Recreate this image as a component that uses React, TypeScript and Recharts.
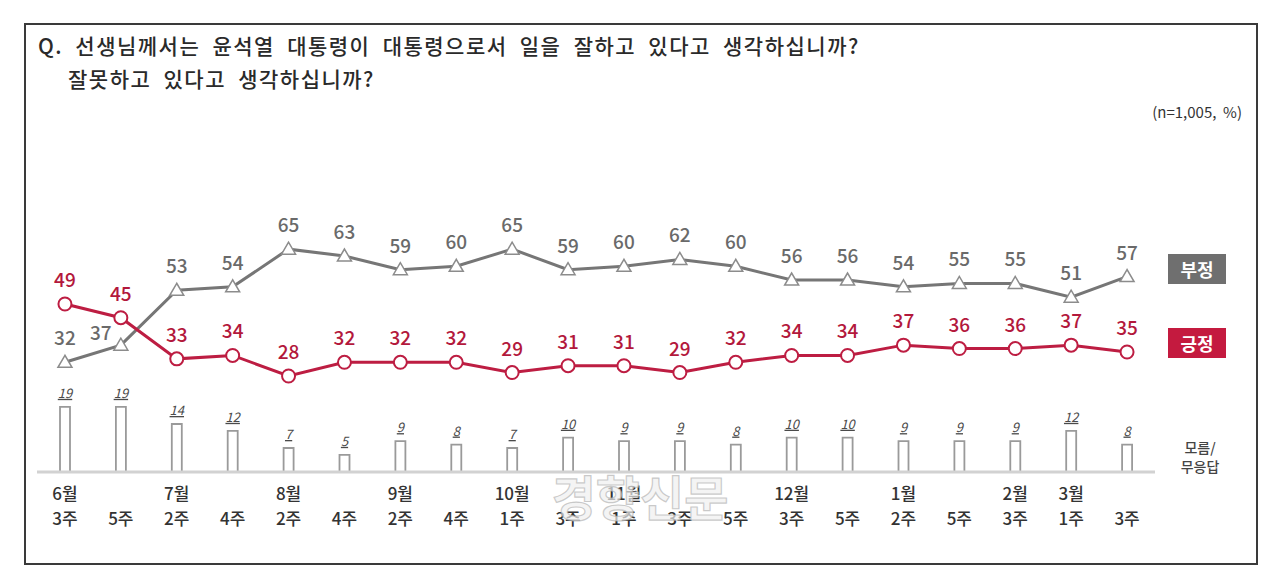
import React from "react";
import { ComposedChart, Bar, Line, XAxis, YAxis, LabelList } from "recharts";

const months = ["6월", "", "7월", "", "8월", "", "9월", "", "10월", "", "11월", "", "", "12월", "", "1월", "", "2월", "3월", ""];
const weeks = ["3주", "5주", "2주", "4주", "2주", "4주", "2주", "4주", "1주", "3주", "1주", "3주", "5주", "3주", "5주", "2주", "5주", "3주", "1주", "3주"];
const negative = [32, 37, 53, 54, 65, 63, 59, 60, 65, 59, 60, 62, 60, 56, 56, 54, 55, 55, 51, 57];
const positive = [49, 45, 33, 34, 28, 32, 32, 32, 29, 31, 31, 29, 32, 34, 34, 37, 36, 36, 37, 35];
const noAnswer = [19, 19, 14, 12, 7, 5, 9, 8, 7, 10, 9, 9, 8, 10, 10, 9, 9, 9, 12, 8];

const data = weeks.map((w, i) => ({
  name: `${months[i]} ${w}`.trim(),
  neg: negative[i],
  pos: positive[i],
  dk: noAnswer[i],
}));

const FONT = "'Noto Sans CJK KR', 'Noto Sans', sans-serif";
const GRAY = "#767676";
const RED = "#bd1d42";

const Triangle = (props: any) => {
  const { cx, cy, index } = props;
  if (cx == null || cy == null) return null;
  return (
    <polygon
      key={`tri-${index}`}
      points={`${cx},${cy - 7} ${cx - 7},${cy + 5} ${cx + 7},${cy + 5}`}
      fill="#fff"
      stroke="#8c8c8c"
      strokeWidth={1.5}
    />
  );
};

const Ring = (props: any) => {
  const { cx, cy, index } = props;
  if (cx == null || cy == null) return null;
  return <circle key={`ring-${index}`} cx={cx} cy={cy} r={6.5} fill="#fff" stroke={RED} strokeWidth={2} />;
};

// index 1 of the 부정 line has its label pushed left, off the crossing lines
const negNudge: Record<number, [number, number]> = { 1: [-20, 12] };

const LineLabel = (color: string, nudge: Record<number, [number, number]> = {}) => (props: any) => {
  const { x, y, value, index } = props;
  const [dx, dy] = nudge[index] || [0, 0];
  return (
    <text
      x={x + dx}
      y={y - 17 + dy}
      textAnchor="middle"
      fontSize={19}
      fontFamily={FONT}
      fontWeight={500}
      fill={color}
    >
      {value}
    </text>
  );
};

const BarLabel = (props: any) => {
  const { x, y, width, value } = props;
  return (
    <text
      x={x + width / 2}
      y={y - 9}
      textAnchor="middle"
      fontSize={13}
      fontStyle="italic"
      fontFamily={FONT}
      textDecoration="underline"
      fill="#4a4a4a"
    >
      {value}
    </text>
  );
};

const Tick = (props: any) => {
  const { x, y, payload } = props;
  const i = payload.index;
  return (
    <g>
      {months[i] && (
        <text x={x} y={y + 20} textAnchor="middle" fontSize={17} fontFamily={FONT} fontWeight={500} fill="#333">
          {months[i]}
        </text>
      )}
      <text x={x} y={y + 45} textAnchor="middle" fontSize={17} fontFamily={FONT} fontWeight={500} fill="#333">
        {weeks[i]}
      </text>
    </g>
  );
};

const titleStyle: React.CSSProperties = {
  position: "absolute",
  fontSize: 21,
  fontWeight: 500,
  color: "#2a2a2a",
  whiteSpace: "pre",
  letterSpacing: 1.5,
  wordSpacing: 6,
  lineHeight: "28px",
};

export default function App() {
  return (
    <div style={{ position: "absolute", left: 0, top: 0, width: 1280, height: 586, background: "#fff", fontFamily: FONT, overflow: "hidden" }}>
      <div
        style={{
          position: "absolute",
          left: 24,
          top: 23,
          width: 1230,
          height: 538,
          border: "2px solid #3a3a3a",
        }}
      />
      <div style={{ ...titleStyle, left: 38, top: 31 }}>
        Q. 선생님께서는 윤석열 대통령이 대통령으로서 일을 잘하고 있다고 생각하십니까?
      </div>
      <div style={{ ...titleStyle, left: 68, top: 64 }}>
        잘못하고 있다고 생각하십니까?
      </div>
      <div style={{ position: "absolute", right: 1280 - 1242, top: 101, fontSize: 15, color: "#333", lineHeight: "22px", whiteSpace: "pre" }}>
        (n=1,005,  %)
      </div>

      <div style={{ position: "absolute", left: 0, top: 0 }}>
        <ComposedChart width={1280} height={586} data={data} margin={{ top: 232, right: 125, bottom: 54, left: 37 }}>
          <YAxis hide domain={[0, 70]} />
          <XAxis
            dataKey="name"
            height={60}
            axisLine={{ stroke: "#d2d2d2", strokeWidth: 3 }}
            tickLine={false}
            tick={<Tick />}
            interval={0}
          />
          <Bar dataKey="dk" barSize={10} fill="#fff" stroke="#9a9a9a" strokeWidth={1.8} isAnimationActive={false}>
            <LabelList dataKey="dk" content={BarLabel} />
          </Bar>
          <Line
            type="linear"
            dataKey="neg"
            stroke={GRAY}
            strokeWidth={3}
            dot={<Triangle />}
            activeDot={false}
            isAnimationActive={false}
          >
            <LabelList dataKey="neg" content={LineLabel("#6a6a6a", negNudge)} />
          </Line>
          <Line
            type="linear"
            dataKey="pos"
            stroke={RED}
            strokeWidth={3}
            dot={<Ring />}
            activeDot={false}
            isAnimationActive={false}
          >
            <LabelList dataKey="pos" content={LineLabel("#b3183c")} />
          </Line>
        </ComposedChart>
      </div>

      <div style={{ position: "absolute", left: 1168, top: 254, width: 58, height: 30, background: "#6f6f6f", color: "#fff", fontSize: 18, fontWeight: 700, textAlign: "center", lineHeight: "30px" }}>
        부정
      </div>
      <div style={{ position: "absolute", left: 1168, top: 328, width: 58, height: 30, background: "#c41a3f", color: "#fff", fontSize: 18, fontWeight: 700, textAlign: "center", lineHeight: "30px" }}>
        긍정
      </div>
      <div style={{ position: "absolute", left: 1170, top: 438, width: 60, fontSize: 14, fontWeight: 500, color: "#444", textAlign: "center", lineHeight: "19px" }}>
        모름/
        <br />
        무응답
      </div>

      <svg style={{ position: "absolute", left: 0, top: 0 }} width={1280} height={586} pointerEvents="none">
        <text
          x={640}
          y={516}
          textAnchor="middle"
          fontSize={48}
          fontWeight={700}
          fontFamily={FONT}
          fill="rgba(240,240,240,0.7)"
          stroke="rgba(170,170,170,0.6)"
          strokeWidth={1.2}
        >
          경향신문
        </text>
      </svg>
    </div>
  );
}
